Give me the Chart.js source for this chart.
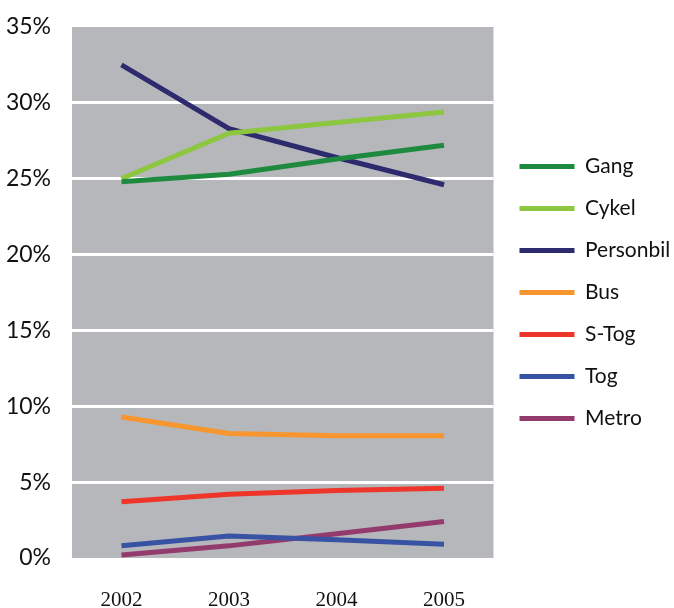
<!DOCTYPE html>
<html>
<head>
<meta charset="utf-8">
<script src="https://cdn.jsdelivr.net/npm/chart.js@4"></script>
<style>
  body { margin: 0; background: #fff; }
  #wrap { width: 674px; height: 608px; }
</style>
</head>
<body>
<div id="wrap"><canvas id="lineChart"></canvas></div>
<script>
const years = ['2002', '2003', '2004', '2005'];
const yTicks = [0, 5, 10, 15, 20, 25, 30, 35];

const gang      = [24.8, 25.3, 26.3, 27.2];
const cykel     = [25.0, 28.0, 28.7, 29.4];
const personbil = [32.5, 28.3, 26.4, 24.6];
const bus       = [9.3, 8.2, 8.05, 8.05];
const sTog      = [3.7, 4.2, 4.45, 4.6];
const tog       = [0.8, 1.45, 1.2, 0.9];
const metro     = [0.2, 0.8, 1.6, 2.4];

const series = [
  { label: 'Gang', values: gang, color: '#1e8a3f' },
  { label: 'Cykel', values: cykel, color: '#8dc63f' },
  { label: 'Personbil', values: personbil, color: '#2d2a6d' },
  { label: 'Bus', values: bus, color: '#f7962f' },
  { label: 'S-Tog', values: sTog, color: '#ee3529' },
  { label: 'Tog', values: tog, color: '#3953a4' },
  { label: 'Metro', values: metro, color: '#943b6e' },
];

// grey plot background
const greyBg = {
  id: 'greyBg',
  beforeDraw(chart) {
    const { ctx, chartArea: a } = chart;
    ctx.save();
    ctx.fillStyle = '#b6b7ba';
    ctx.fillRect(a.left, a.top, a.right - a.left, a.bottom - a.top);
    ctx.restore();
  }
};

// nudge legend: a small gap from the plot, centred on the plot height
const legendNudge = {
  id: 'legendNudge',
  afterLayout(chart) {
    const lg = chart.legend;
    lg.left += 5;
    lg.right = chart.width;
    lg.top = chart.chartArea.top;
    lg.bottom = chart.chartArea.bottom;
  }
};

const data = {
  datasets: series.map(s => ({
    label: s.label,
    data: s.values.map((v, i) => ({ x: i, y: v })),
    borderColor: s.color,
    backgroundColor: s.color,
    borderWidth: 5,
    pointRadius: 0,
    tension: 0,
  }))
};

new Chart(document.getElementById('lineChart'), {
  type: 'line',
  data,
  plugins: [greyBg, legendNudge],
  options: {
    responsive: true,
    maintainAspectRatio: false,
    animation: false,
    layout: { padding: { top: 27, right: 16, left: 0, bottom: 0 } },
    plugins: {
      tooltip: { enabled: false },
      legend: {
        position: 'right',
        labels: {
          boxWidth: 55,
          boxHeight: 5,
          padding: 21,
          color: '#111',
          font: { family: 'Lato', size: 21 },
          generateLabels: chart => chart.data.datasets.map((d, i) => ({
            text: d.label,
            fillStyle: d.borderColor,
            strokeStyle: d.borderColor,
            lineWidth: 0,
            fontColor: '#111',
            datasetIndex: i,
            hidden: false,
          })),
        }
      }
    },
    scales: {
      x: {
        type: 'linear',
        min: -0.46,
        max: 3.46,
        afterBuildTicks: s => { s.ticks = years.map((y, i) => ({ value: i })); },
        afterFit: s => { s.height = 50; s.paddingLeft = 0; s.paddingRight = 0; },
        grid: { display: false, drawTicks: false },
        border: { display: false },
        ticks: {
          padding: 30,
          color: '#111',
          font: { family: 'Liberation Serif', size: 21 },
          callback: v => years[v],
        }
      },
      y: {
        min: 0,
        max: 35,
        afterBuildTicks: s => { s.ticks = yTicks.map(v => ({ value: v })); },
        afterFit: s => { s.width = 72; s.paddingTop = 0; s.paddingBottom = 0; },
        grid: {
          drawTicks: false,
          lineWidth: 3,
          color: c => (c.tick && (c.tick.value === 0 || c.tick.value === 35)) ? 'rgba(0,0,0,0)' : '#ffffff',
        },
        border: { display: false },
        ticks: {
          padding: 21,
          color: '#111',
          font: { family: 'Lato', size: 23 },
          callback: v => v + '%',
        }
      }
    }
  }
});
</script>
</body>
</html>
